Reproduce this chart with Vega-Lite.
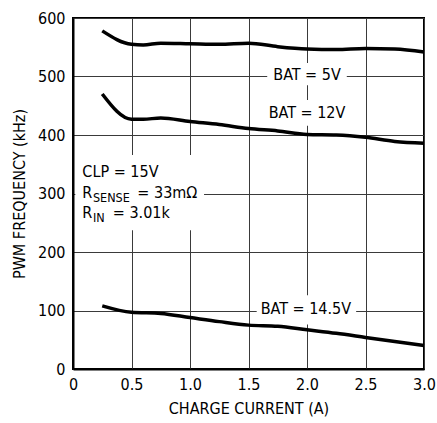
{
  "$schema": "https://vega.github.io/schema/vega-lite/v6.json",
  "width": 351,
  "height": 351,
  "autosize": {"type": "none"},
  "padding": {"left": 73, "top": 18, "right": 13, "bottom": 54},
  "background": "white",
  "config": {
    "font": "DejaVu Sans Condensed",
    "view": {"stroke": "black", "strokeWidth": 2},
    "axis": {
      "domainColor": "black", "domainWidth": 2,
      "gridColor": "#3a3a3a", "gridWidth": 1, "gridOpacity": 1,
      "ticks": false,
      "labelFont": "DejaVu Sans Condensed", "labelFontSize": 16, "labelColor": "black",
      "titleFont": "DejaVu Sans Condensed", "titleFontSize": 16, "titleFontWeight": "normal", "titleColor": "black"
    }
  },
  "datasets": {
    "curves": [
      {"current": 0.25, "freq": 578, "series": "BAT = 5V"},
      {"current": 0.5, "freq": 555, "series": "BAT = 5V"},
      {"current": 0.6, "freq": 554, "series": "BAT = 5V"},
      {"current": 0.75, "freq": 557, "series": "BAT = 5V"},
      {"current": 1.0, "freq": 556, "series": "BAT = 5V"},
      {"current": 1.25, "freq": 555, "series": "BAT = 5V"},
      {"current": 1.5, "freq": 557, "series": "BAT = 5V"},
      {"current": 1.75, "freq": 551, "series": "BAT = 5V"},
      {"current": 2.0, "freq": 547, "series": "BAT = 5V"},
      {"current": 2.25, "freq": 546, "series": "BAT = 5V"},
      {"current": 2.5, "freq": 548, "series": "BAT = 5V"},
      {"current": 2.75, "freq": 547, "series": "BAT = 5V"},
      {"current": 3.0, "freq": 542, "series": "BAT = 5V"},
      {"current": 0.25, "freq": 470, "series": "BAT = 12V"},
      {"current": 0.5, "freq": 427, "series": "BAT = 12V"},
      {"current": 0.6, "freq": 427, "series": "BAT = 12V"},
      {"current": 0.75, "freq": 429, "series": "BAT = 12V"},
      {"current": 1.0, "freq": 423, "series": "BAT = 12V"},
      {"current": 1.25, "freq": 418, "series": "BAT = 12V"},
      {"current": 1.5, "freq": 411, "series": "BAT = 12V"},
      {"current": 1.75, "freq": 407, "series": "BAT = 12V"},
      {"current": 2.0, "freq": 401, "series": "BAT = 12V"},
      {"current": 2.25, "freq": 400, "series": "BAT = 12V"},
      {"current": 2.5, "freq": 396, "series": "BAT = 12V"},
      {"current": 2.75, "freq": 389, "series": "BAT = 12V"},
      {"current": 3.0, "freq": 386, "series": "BAT = 12V"},
      {"current": 0.25, "freq": 108, "series": "BAT = 14.5V"},
      {"current": 0.5, "freq": 97, "series": "BAT = 14.5V"},
      {"current": 0.75, "freq": 95, "series": "BAT = 14.5V"},
      {"current": 1.0, "freq": 88, "series": "BAT = 14.5V"},
      {"current": 1.25, "freq": 81, "series": "BAT = 14.5V"},
      {"current": 1.5, "freq": 75, "series": "BAT = 14.5V"},
      {"current": 1.75, "freq": 73, "series": "BAT = 14.5V"},
      {"current": 2.0, "freq": 67, "series": "BAT = 14.5V"},
      {"current": 2.25, "freq": 61, "series": "BAT = 14.5V"},
      {"current": 2.5, "freq": 54, "series": "BAT = 14.5V"},
      {"current": 2.75, "freq": 47, "series": "BAT = 14.5V"},
      {"current": 3.0, "freq": 40, "series": "BAT = 14.5V"}
    ],
    "gaps": [
      {"x1": 1.66, "x2": 2.34, "y1": 485, "y2": 523},
      {"x1": 1.65, "x2": 2.35, "y1": 416, "y2": 460},
      {"x1": 1.57, "x2": 2.42, "y1": 76, "y2": 126},
      {"x1": 0.02, "x2": 1.12, "y1": 237, "y2": 366}
    ],
    "labels": [
      {"x": 2.0, "y": 503, "text": "BAT = 5V"},
      {"x": 2.0, "y": 437, "text": "BAT = 12V"},
      {"x": 1.99, "y": 102, "text": "BAT = 14.5V"}
    ],
    "notes": [
      {"x": 0.08, "y": 337, "text": "CLP = 15V"},
      {"x": 0.08, "y": 301, "text": "R"},
      {"x": 0.55, "y": 301, "text": "= 33mΩ"},
      {"x": 0.08, "y": 267, "text": "R"},
      {"x": 0.34, "y": 267, "text": "= 3.01k"}
    ],
    "subs": [
      {"x": 0.17, "y": 301, "text": "SENSE"},
      {"x": 0.17, "y": 267, "text": "IN"}
    ]
  },
  "layer": [
    {
      "data": {"name": "gaps"},
      "mark": {"type": "rect", "color": "white"},
      "encoding": {
        "x": {"field": "x1", "type": "quantitative", "scale": {"domain": [0, 3]},
          "axis": {"title": "CHARGE CURRENT (A)", "values": [0, 0.5, 1, 1.5, 2, 2.5, 3], "labelExpr": "datum.value == 0 ? '0' : format(datum.value, '.1f')", "labelPadding": 7, "titlePadding": 8, "labelFlush": false}},
        "x2": {"field": "x2"},
        "y": {"field": "y1", "type": "quantitative", "scale": {"domain": [0, 600]},
          "axis": {"title": "PWM FREQUENCY (kHz)", "values": [0, 100, 200, 300, 400, 500, 600], "labelPadding": 8, "titlePadding": 10, "labelFlush": false}},
        "y2": {"field": "y2"}
      }
    },
    {
      "data": {"name": "curves"},
      "mark": {"type": "line", "color": "black", "strokeWidth": 3.5, "interpolate": "monotone"},
      "encoding": {
        "x": {"field": "current", "type": "quantitative"},
        "y": {"field": "freq", "type": "quantitative"},
        "detail": {"field": "series"}
      }
    },
    {
      "data": {"name": "labels"},
      "mark": {"type": "text", "fontSize": 16, "align": "center", "baseline": "middle", "color": "black"},
      "encoding": {
        "x": {"field": "x", "type": "quantitative"},
        "y": {"field": "y", "type": "quantitative"},
        "text": {"field": "text"}
      }
    },
    {
      "data": {"name": "notes"},
      "mark": {"type": "text", "fontSize": 16, "align": "left", "baseline": "middle", "color": "black"},
      "encoding": {
        "x": {"field": "x", "type": "quantitative"},
        "y": {"field": "y", "type": "quantitative"},
        "text": {"field": "text"}
      }
    },
    {
      "data": {"name": "subs"},
      "mark": {"type": "text", "fontSize": 12.5, "align": "left", "baseline": "middle", "dy": 5, "color": "black"},
      "encoding": {
        "x": {"field": "x", "type": "quantitative"},
        "y": {"field": "y", "type": "quantitative"},
        "text": {"field": "text"}
      }
    }
  ]
}
